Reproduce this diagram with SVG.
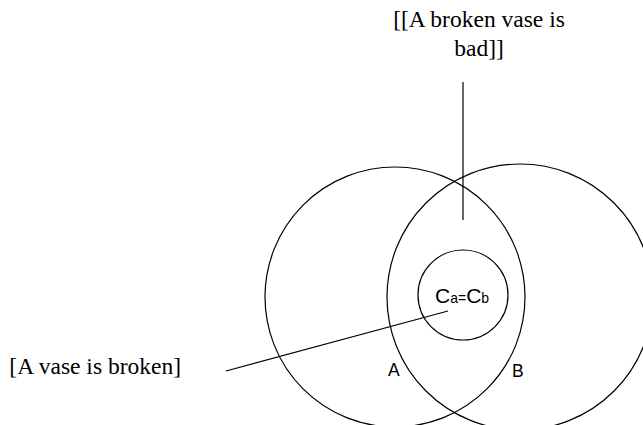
<svg xmlns="http://www.w3.org/2000/svg" width="643" height="425" viewBox="0 0 643 425">
<style>
.c{fill:none;stroke:#000;stroke-width:1.2}
.l{stroke:#000;stroke-width:1.2}
.t{font-family:"Liberation Serif",serif;font-size:23.5px;fill:#000}
.s{font-family:"Liberation Sans",sans-serif;fill:#000}
</style>
<rect width="643" height="425" fill="#fff"/>
<g id="circleA"><circle class="c" cx="395" cy="297" r="130"/><text class="s" x="388" y="376" font-size="17.5">A</text></g>
<g id="circleB"><circle class="c" cx="520" cy="297" r="133"/><text class="s" x="512" y="377" font-size="17.5">B</text></g>
<g id="circleC"><circle class="c" cx="463" cy="295" r="45"/><text class="s" x="435" y="303" font-size="21">C<tspan font-size="14">a=</tspan>C<tspan font-size="14">b</tspan></text></g>
<g id="label-bad"><text class="t" x="479" y="27" text-anchor="middle">[[A broken vase is</text><text class="t" x="479" y="56" text-anchor="middle">bad]]</text></g>
<g id="label-broken"><text class="t" x="181" y="374" text-anchor="end">[A vase is broken]</text></g>
<g id="connectors">
<line class="l" x1="463" y1="82" x2="463" y2="220"/>
<line class="l" x1="226" y1="371" x2="448" y2="311"/>
</g>
</svg>
